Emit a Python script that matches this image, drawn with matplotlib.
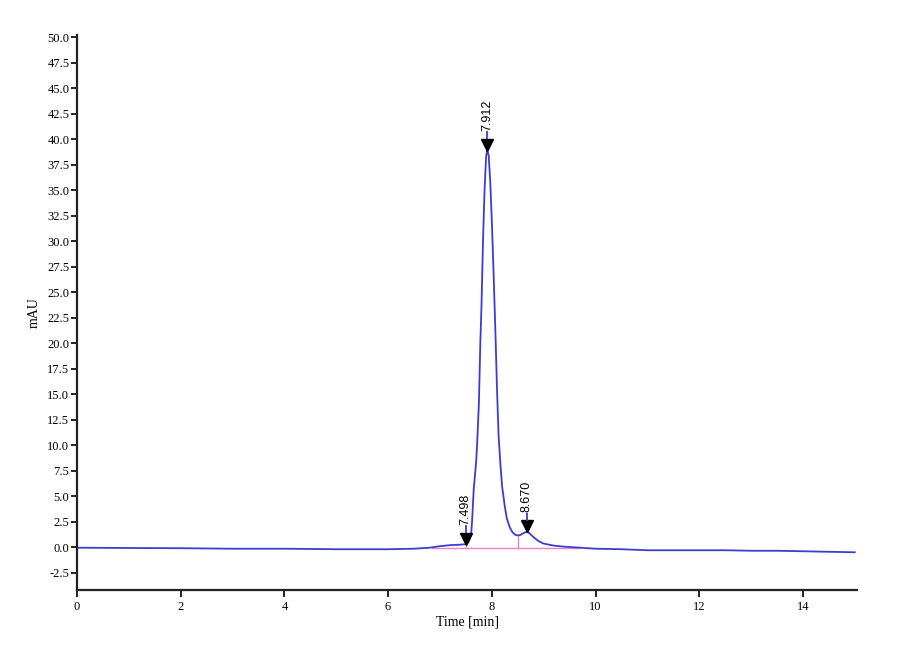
import matplotlib
matplotlib.use("Agg")
import matplotlib.pyplot as plt
import matplotlib.transforms as mtransforms

# chromatogram trace
time_min = [0.0, 1.0, 2.0, 3.0, 4.0, 5.0, 6.0, 6.5, 6.8, 7.0, 7.2, 7.4, 7.5,
            7.55, 7.6, 7.62, 7.65, 7.7, 7.72, 7.75, 7.78, 7.8, 7.83, 7.86,
            7.89, 7.912, 7.94, 7.97, 8.0, 8.03, 8.07, 8.1, 8.13, 8.17, 8.2,
            8.25, 8.29, 8.35, 8.4, 8.45, 8.5, 8.55, 8.6, 8.67, 8.72, 8.8,
            8.9, 9.0, 9.2, 9.4, 9.7, 10.0, 10.5, 11.0, 11.5, 12.0, 12.5,
            13.0, 13.5, 14.0, 14.5, 15.0]
signal_mau = [-0.05, -0.08, -0.1, -0.15, -0.15, -0.2, -0.2, -0.15, -0.05,
              0.1, 0.2, 0.25, 0.3,
              0.5, 1.2, 2.6, 5.6, 8.5, 10.5, 14.0, 20.3, 23.5, 30.0, 35.0,
              38.3, 38.9, 38.4, 35.8, 32.0, 27.5, 21.0, 15.5, 11.0, 7.8, 5.9,
              4.0, 2.8, 1.9, 1.45, 1.22, 1.15, 1.2, 1.35, 1.5, 1.4, 1.0,
              0.6, 0.35, 0.15, 0.05, -0.05, -0.15, -0.2, -0.3, -0.3, -0.3, -0.3,
              -0.35, -0.35, -0.4, -0.45, -0.5]

# integration baseline and drop lines
base_t = [6.85, 9.67]
base_y = [-0.1, -0.1]
drop_t = [7.498, 8.5]
drop_top = [0.3, 1.15]

# peak marks
peak_t = [7.498, 7.912, 8.670]
peak_y = [0.3, 38.9, 1.5]
peak_labels = ["7.498", "7.912", "8.670"]

y_ticks = [-2.5 + 2.5 * i for i in range(22)]
x_ticks = [0, 2, 4, 6, 8, 10, 12, 14]

plt.rcParams["font.family"] = ["Liberation Serif", "DejaVu Serif"]

fig = plt.figure(figsize=(9, 6.6), dpi=100)
ax = fig.add_axes([0.0856, 0.106, 0.867, 0.841])

ax.plot(base_t, base_y, color="#f080c8", linewidth=1.0, zorder=1)
for t, top in zip(drop_t, drop_top):
    ax.plot([t, t], [base_y[0], top], color="#f080c8", linewidth=1.0, zorder=1)

ax.plot(time_min, signal_mau, color="#3c3cd2", linewidth=1.3, zorder=2)

for t, y, lab in zip(peak_t, peak_y, peak_labels):
    tri = mtransforms.offset_copy(ax.transData, fig=fig, x=0, y=4, units="points")
    ax.plot([t], [y], marker="v", markersize=8, color="black",
            transform=tri, zorder=3)
    stem = mtransforms.offset_copy(ax.transData, fig=fig, x=0, y=11, units="points")
    ax.plot([t], [y], marker="|", markersize=6, markeredgewidth=1.3,
            color="#3c3cd2", transform=stem, zorder=3)
    ax.annotate(lab, xy=(t, y), xytext=(0, 14), textcoords="offset points",
                rotation=90, ha="center", va="bottom", fontsize=9,
                family=["Liberation Sans", "DejaVu Sans"])

ax.set_xlim(0, 15.05)
ax.set_ylim(-4.2, 50.2)
ax.set_xticks(x_ticks)
ax.set_xticklabels([str(v) for v in x_ticks])
ax.set_yticks(y_ticks)
ax.set_yticklabels([f"{v:.1f}" for v in y_ticks])

ax.spines["top"].set_visible(False)
ax.spines["right"].set_visible(False)
for s in ("left", "bottom"):
    ax.spines[s].set_linewidth(1.6)
    ax.spines[s].set_color("#222222")

ax.tick_params(axis="both", direction="out", width=1.4, color="#222222",
               labelsize=9, pad=1.5)
ax.tick_params(axis="y", length=4)
ax.tick_params(axis="x", length=5, pad=3)

ax.set_xlabel("Time [min]", fontsize=10, labelpad=2)
ax.set_ylabel("mAU", fontsize=10, labelpad=5)

fig.savefig("out.png", dpi=100)
